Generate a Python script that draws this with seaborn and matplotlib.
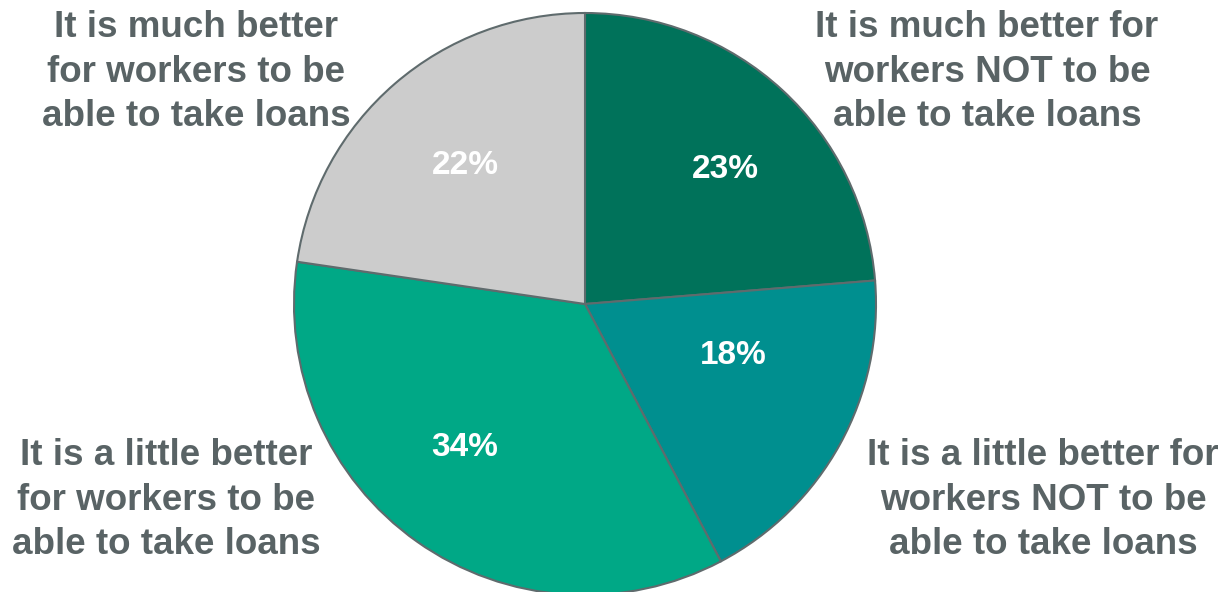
import matplotlib
matplotlib.use("Agg")
import matplotlib.pyplot as plt
import seaborn as sns

sns.set_theme(style="white")
plt.rcParams["font.family"] = ["Liberation Sans", "DejaVu Sans"]

categories = [
    "It is much better for\nworkers NOT to be\nable to take loans",
    "It is a little better for\nworkers NOT to be\nable to take loans",
    "It is a little better\nfor workers to be\nable to take loans",
    "It is much better\nfor workers to be\nable to take loans",
]
values = [23, 18, 34, 22]
colors = ["#00725A", "#008F8F", "#00A886", "#CCCCCC"]

text_color = "#596365"
edge_color = "#5F6B6D"

fig = plt.figure(figsize=(12.24, 5.92), dpi=100)
ax = fig.add_axes([0, 0, 1, 1])

cx, cy, r = 585, 592 - 304, 291
ax.pie(values, colors=colors, startangle=90, counterclock=False,
       center=(cx, cy), radius=r, frame=True,
       wedgeprops=dict(edgecolor=edge_color, linewidth=1.5))
ax.set_xlim(0, 1224)
ax.set_ylim(0, 592)
ax.set_aspect("equal")
ax.axis("off")

# category labels around the pie
label_pos = [(987, 592 - 72), (1043, 592 - 500), (166, 592 - 500), (196, 592 - 72)]
for text, (x, y) in zip(categories, label_pos):
    ax.text(x, y, text, ha="center", va="center", fontsize=26.5,
            fontweight="bold", color=text_color, linespacing=1.35)

# percentage labels inside the slices
pct_pos = [(725, 592 - 170), (733, 592 - 355), (465, 592 - 447), (465, 592 - 165)]
for v, (x, y) in zip(values, pct_pos):
    ax.text(x, y, f"{v}%", ha="center", va="center", fontsize=24,
            fontweight="bold", color="white")

fig.savefig("out.png", dpi=100)
